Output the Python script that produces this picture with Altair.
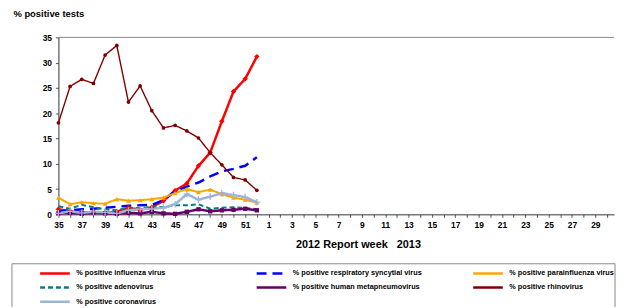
import json
import altair as alt
import pandas as pd

# x categories: report weeks 35/2012 .. 30/2013
week_labels = ["35", "36", "37", "38", "39", "40", "41", "42", "43", "44", "45", "46",
               "47", "48", "49", "50", "51", "52", "1", "2", "3", "4", "5", "6", "7", "8",
               "9", "10", "11", "12", "13", "14", "15", "16", "17", "18", "19", "20", "21",
               "22", "23", "24", "25", "26", "27", "28", "29", "30"]
y_ticks = [0, 5, 10, 15, 20, 25, 30, 35]

# % positive tests, weeks 35..52 of 2012
influenza = [1.0, 0.6, 0.4, 0.4, 0.3, 0.5, 1.3, 0.9, 1.4, 2.7, 4.7, 6.1, 9.6, 12.2, 18.4, 24.3, 26.8, 31.2]
rsv = [0.5, 0.8, 1.0, 1.1, 1.3, 1.5, 1.7, 1.8, 1.9, 2.8, 4.6, 5.5, 6.3, 7.5, 8.5, 9.0, 9.6, 11.3]
parainfluenza = [3.3, 2.0, 2.4, 2.2, 2.1, 3.0, 2.7, 2.8, 3.0, 3.3, 4.2, 5.0, 4.4, 4.9, 4.0, 3.3, 2.9, 2.3]
adenovirus = [1.6, 1.1, 1.9, 1.4, 1.0, 0.8, 1.3, 1.2, 1.5, 1.4, 1.8, 1.8, 2.0, 1.1, 1.3, 1.4, 1.3, 1.0]
metapneumovirus = [0.2, 0.3, 0.1, 0.3, 0.2, 0.1, 0.3, 0.2, 0.5, 0.2, 0.1, 0.5, 1.0, 0.6, 0.8, 0.9, 1.1, 0.8]
rhinovirus = [18.1, 25.3, 26.7, 25.9, 31.5, 33.4, 22.2, 25.4, 20.5, 17.1, 17.6, 16.5, 15.1, 12.2, 9.8, 7.3, 6.8, 4.75]
coronavirus = [0.2, 0.6, 0.3, 0.5, 0.4, 0.2, 0.8, 1.0, 1.1, 1.3, 2.0, 4.0, 2.9, 3.5, 4.2, 3.8, 3.4, 2.4]

series_names = ["% positive influenza virus", "% positive respiratory syncytial virus",
                "% positive parainfluenza virus", "% positive adenovirus",
                "% positive human metapneumovirus", "% positive rhinovirus",
                "% positive coronavirus"]
series_values = [influenza, rsv, parainfluenza, adenovirus, metapneumovirus, rhinovirus, coronavirus]
colors = ["#ff0000", "#0000ff", "#ffa500", "#008080", "#660066", "#800000", "#9db4d8"]
dashes = [[1, 0], [10, 6], [1, 0], [5, 3], [1, 0], [1, 0], [1, 0]]
widths = [2.5, 2.5, 2.0, 2.0, 2.5, 1.4, 2.5]

marker_series = ["% positive influenza virus", "% positive parainfluenza virus",
                 "% positive human metapneumovirus", "% positive rhinovirus"]
marker_shapes = ["diamond", "triangle-up", "square", "circle"]
marker_sizes = [30, 14, 14, 36]
marker_colors = ["#ff0000", "#ffa500", "#660066", "#800000"]

rows = []
for name, vals, w in zip(series_names, series_values, widths):
    for i, v in enumerate(vals):
        rows.append({"idx": i, "week": week_labels[i], "series": name, "value": v, "sw": w})
df = pd.DataFrame(rows)

FONT = "Liberation Sans"

label_expr = "datum.value % 2 == 0 ? " + json.dumps(week_labels) + "[datum.value] : ''"

x_enc = alt.X(
    "idx:Q",
    scale=alt.Scale(domain=[0, 47.6], nice=False, zero=False),
    axis=alt.Axis(
        values=list(range(len(week_labels))),
        tickCount=len(week_labels),
        labelExpr=label_expr,
        title="2012 Report week\u00a0\u00a0\u00a02013",
        titleFontSize=11, titleFontWeight="bold", titleFont=FONT, titleColor="#000",
        titleX=303, titleY=31, titleBaseline="middle", titleAlign="center",
        labelFontSize=8.5, labelFontWeight="bold", labelFont=FONT, labelColor="#000",
        labelPadding=3, tickSize=3, tickColor="#555", domainColor="#333",
        labelOverlap=False, grid=False, labelFlush=False,
    ),
)
y_enc = alt.Y(
    "value:Q",
    scale=alt.Scale(domain=[0, 35], nice=False),
    axis=alt.Axis(
        values=y_ticks,
        tickCount=len(y_ticks),
        title="% positive tests",
        titleAngle=0, titleAlign="left", titleBaseline="top",
        titleX=-46, titleY=-29,
        titleFontSize=9.5, titleFontWeight="bold", titleFont=FONT, titleColor="#000",
        labelFontSize=8.5, labelFontWeight="bold", labelFont=FONT, labelColor="#000",
        labelPadding=4, tickSize=3, tickColor="#555", domainColor="#333", grid=False,
        labelOverlap=False,
    ),
)

legend = alt.Legend(
    title=None, orient="none", legendX=-25, legendY=232,
    direction="horizontal", columns=3, gridAlign="all",
    symbolType="M-3,0H3", symbolSize=100, symbolStrokeWidth=2.5, symbolOffset=15,
    labelFontSize=7.4, labelFont=FONT, labelFontWeight="bold", labelColor="#000",
    labelOffset=15, columnPadding=45, rowPadding=2.5, padding=0, labelLimit=300,
)

lines = alt.Chart(df).mark_line().encode(
    x=x_enc,
    y=y_enc,
    color=alt.Color("series:N", scale=alt.Scale(domain=series_names, range=colors), legend=legend),
    strokeDash=alt.StrokeDash("series:N", scale=alt.Scale(domain=series_names, range=dashes), legend=legend),
    strokeWidth=alt.StrokeWidth("sw:Q", scale=None, legend=None),
    order="idx:Q",
)

points = alt.Chart(df).transform_filter(
    alt.FieldOneOfPredicate(field="series", oneOf=marker_series)
).mark_point(filled=True, opacity=1).encode(
    x="idx:Q",
    y="value:Q",
    fill=alt.Fill("series:N", scale=alt.Scale(domain=marker_series, range=marker_colors), legend=None),
    shape=alt.Shape("series:N", scale=alt.Scale(domain=marker_series, range=marker_shapes), legend=None),
    size=alt.Size("series:N", scale=alt.Scale(domain=marker_series, range=marker_sizes), legend=None),
)

corona_pts = alt.Chart(df).transform_filter(
    alt.datum.series == "% positive coronavirus"
).mark_point(shape="M-1,0H1M0,-1V1", filled=False, strokeWidth=1.3, size=45, color="#9db4d8", opacity=1).encode(
    x="idx:Q", y="value:Q",
)

frame_df = pd.DataFrame({"k": [0]})
top_rule = alt.Chart(frame_df).mark_rule(color="#888", strokeWidth=1).encode(
    x=alt.value(0), x2=alt.value(562), y=alt.value(0)
)
legend_box = alt.Chart(frame_df).mark_rect(fill="white", stroke="#888", strokeWidth=1).encode(
    x=alt.value(-47), x2=alt.value(563), y=alt.value(229), y2=alt.value(330)
)

chart = alt.layer(top_rule, legend_box, lines, points, corona_pts).properties(
    width=562, height=179,
    padding={"left": 51, "top": 28, "right": 4, "bottom": 92},
    autosize=alt.AutoSizeParams(type="none"),
    background="white",
).configure_view(stroke=None)

chart.save("out.html", embed_options={"renderer": "svg", "actions": False})
